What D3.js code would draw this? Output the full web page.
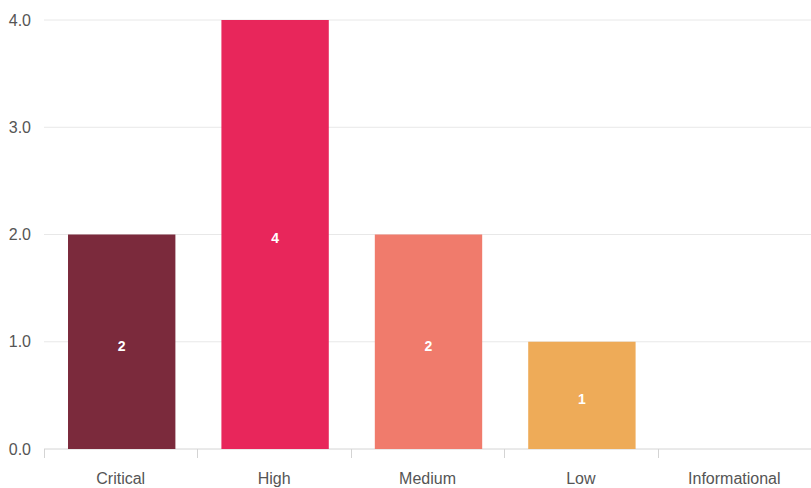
<!DOCTYPE html>
<html>
<head>
<meta charset="utf-8">
<script src="https://cdn.jsdelivr.net/npm/d3@7"></script>
<style>
  body { margin: 0; background: #fff; }
  svg { font-family: "Liberation Sans", Arial, sans-serif; }
</style>
</head>
<body>
<svg width="811" height="488"></svg>
<script>
var categories = ["Critical", "High", "Medium", "Low", "Informational"]
var counts = [2, 4, 2, 1, 0]
var colors = ["#7b2a3c", "#e8265b", "#f07b6c", "#eeab58", "#5aa0d8"]
var yTicks = [0, 1, 2, 3, 4]

function main(){
	var margin = {top: 20, right: 0, bottom: 39, left: 44};
	var svg = d3.select("svg")
	var width = svg.attr("width") - margin.left - margin.right;
	var height = svg.attr("height") - margin.top - margin.bottom;

	var canvas = svg.append("g")
	.attr("transform", "translate(" + margin.left + "," + margin.top + ")")

	var xScale = d3.scaleBand().domain(categories).range([0, width]).paddingInner(0.3).paddingOuter(0.15)
	var xTicksScale = d3.scaleBand().domain(categories).range([0, width])
	var yScale = d3.scaleLinear().domain([0, 4]).range([height, 0])

	// gridlines
	canvas.selectAll(".grid").data(yTicks).enter().append("line")
	.attr("x1", 0).attr("x2", width)
	.attr("y1", d => yScale(d)).attr("y2", d => yScale(d))
	.attr("stroke", d => d === 0 ? "#d4d4d4" : "#e8e8e8").attr("stroke-width", 1)

	// y labels
	canvas.selectAll(".ylab").data(yTicks).enter().append("text")
	.attr("x", -13).attr("y", d => yScale(d)).attr("dy", "0.35em")
	.attr("text-anchor", "end").attr("font-size", 16).attr("fill", "#555")
	.text(d => d3.format(".1f")(d))

	// x tick marks at band boundaries
	canvas.selectAll(".xt").data(categories).enter().append("line")
	.attr("x1", d => Math.round(xTicksScale(d)) + 0.5).attr("x2", d => Math.round(xTicksScale(d)) + 0.5)
	.attr("y1", height).attr("y2", height + 9)
	.attr("stroke", "#d4d4d4")

	// bars
	canvas.selectAll(".bar").data(counts).enter().append("rect")
	.attr("x", (d, i) => xScale(categories[i]) + 1)
	.attr("width", xScale.bandwidth())
	.attr("y", d => yScale(d))
	.attr("height", d => height - yScale(d))
	.attr("fill", (d, i) => colors[i])

	// value labels
	canvas.selectAll(".val").data(counts).enter().append("text")
	.attr("x", (d, i) => xScale(categories[i]) + 1 + xScale.bandwidth() / 2)
	.attr("y", d => (yScale(d) + height) / 2 + 4)
	.attr("dy", "0.35em")
	.attr("text-anchor", "middle").attr("font-size", 14).attr("font-weight", "bold").attr("fill", "#fff")
	.text(d => d > 0 ? d : "")

	// category labels
	canvas.selectAll(".xlab").data(categories).enter().append("text")
	.attr("x", d => xTicksScale(d) + xTicksScale.bandwidth() / 2)
	.attr("y", height + 35)
	.attr("text-anchor", "middle").attr("font-size", 16).attr("fill", "#555")
	.text(d => d)
}

window.onload = function() {
  main()
};
</script>
</body>
</html>
